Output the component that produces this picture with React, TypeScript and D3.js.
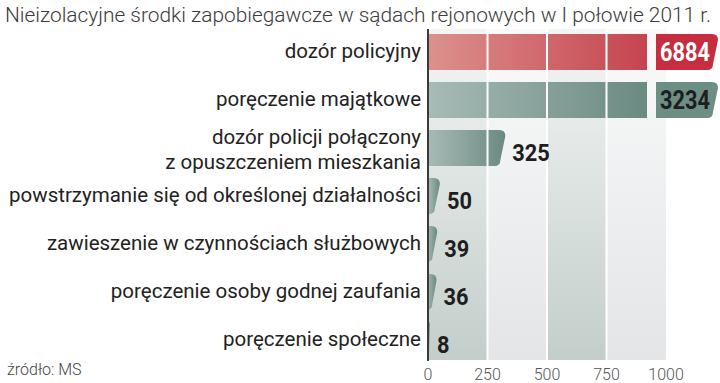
import React from "react";
import * as d3 from "d3";

const title = "Nieizolacyjne środki zapobiegawcze w sądach rejonowych w I połowie 2011 r.";
const categories = [
  ["dozór policyjny"],
  ["poręczenie majątkowe"],
  ["dozór policji połączony", "z opuszczeniem mieszkania"],
  ["powstrzymanie się od określonej działalności"],
  ["zawieszenie w czynnościach służbowych"],
  ["poręczenie osoby godnej zaufania"],
  ["poręczenie społeczne"],
];
const values = [6884, 3234, 325, 50, 39, 36, 8];
const tickValues = [0, 250, 500, 750, 1000];
const source = "źródło: MS";

const W = 720, H = 383;

export default function App() {
  const x = d3.scaleLinear().domain([0, 1000]).range([428, 666]);
  const keys = categories.map((_, i) => String(i));
  const y = d3.scaleBand<string>().domain(keys).range([28, 364]).paddingInner(0.25).paddingOuter(0.125);
  const bh = y.bandwidth();
  const panelTop = 29, panelBottom = 360;
  const overflowEnd = x(1000) - 19;
  const boxX0 = x(1000) - 10, boxX1 = 718;

  const shape = (x0: number, x1: number, y0: number, h: number) => {
    const w = x1 - x0;
    const r = Math.min(6, Math.max(w, 1));
    const s = Math.min(5, w * 0.5);
    return `M${x0},${y0} L${x1 - r},${y0} Q${x1},${y0} ${x1},${y0 + r} L${x1 - s},${y0 + h - r} Q${x1 - s},${y0 + h} ${x1 - s - r},${y0 + h} L${x0},${y0 + h} Z`;
  };

  const cols = d3.pairs(tickValues);

  return (
    <svg width={W} height={H} style={{ position: "absolute", left: 0, top: 0, background: "#fff" }}>
      <defs>
        <linearGradient id="colDark" x1="0" y1="0" x2="0" y2="1">
          <stop offset="0" stopColor="#f4f6f5" />
          <stop offset="1" stopColor="#c3cecb" />
        </linearGradient>
        <linearGradient id="colLight" x1="0" y1="0" x2="0" y2="1">
          <stop offset="0" stopColor="#fafafa" />
          <stop offset="1" stopColor="#e3e5e7" />
        </linearGradient>
        <linearGradient id="redBar" x1="0" y1="0" x2="1" y2="0">
          <stop offset="0" stopColor="#dc918d" />
          <stop offset="1" stopColor="#c5444f" />
        </linearGradient>
        <linearGradient id="greenBar" x1="0" y1="0" x2="1" y2="0">
          <stop offset="0" stopColor="#a8bbb6" />
          <stop offset="1" stopColor="#6a8a81" />
        </linearGradient>
      </defs>

      <text x={5} y={22} fontFamily="Roboto, sans-serif" fontSize={21} fontWeight={300}
        fill="#3a3a3a" textLength={706} lengthAdjust="spacingAndGlyphs">{title}</text>

      {cols.map(([a, b], i) => (
        <rect key={i} x={x(a)} y={panelTop} width={x(b) - x(a)} height={panelBottom - panelTop}
          fill={i % 2 === 0 ? "url(#colDark)" : "url(#colLight)"} />
      ))}

      {values.map((v, i) => {
        const y0 = y(String(i))!;
        const over = v > 1000;
        const isRed = i === 0;
        return (
          <g key={i}>
            {over ? (
              <rect x={x(0)} y={y0} width={overflowEnd - x(0)} height={bh} fill={isRed ? "url(#redBar)" : "url(#greenBar)"} />
            ) : (
              <path d={shape(x(0), x(v), y0, bh)} fill="url(#greenBar)" />
            )}
            {over && (
              <path d={shape(boxX0, boxX1, y0, bh)} fill={isRed ? "#c62e3f" : "#6d8e85"} />
            )}
          </g>
        );
      })}

      {tickValues.slice(1, -1).map((t) => (
        <line key={t} x1={x(t)} x2={x(t)} y1={panelTop} y2={panelBottom} stroke="#fff" strokeWidth={2} />
      ))}

      <line x1={x(0)} x2={x(0)} y1={panelTop} y2={panelBottom + 1} stroke="#3a3a3a" strokeWidth={2} />

      {values.map((v, i) => {
        const y0 = y(String(i))!;
        const c = y0 + bh / 2;
        const over = v > 1000;
        if (over) {
          return (
            <text key={i} x={(boxX0 + boxX1) / 2 - 2} y={c + 9} textAnchor="middle"
              fontFamily="Roboto, sans-serif" fontWeight={700} fontSize={25}
              fill={i === 0 ? "#ffffff" : "#1e1e1e"} textLength={50} lengthAdjust="spacingAndGlyphs">{v}</text>
          );
        }
        return (
          <text key={i} x={x(v) + 7} y={c + 13} fontFamily="Roboto, sans-serif" fontWeight={700}
            fontSize={24} fill="#1e1e1e" textLength={String(v).length * 12.5} lengthAdjust="spacingAndGlyphs">{v}</text>
        );
      })}

      {categories.map((lines, i) => {
        const c = y(String(i))! + bh / 2;
        const n = lines.length;
        return (
          <text key={i} textAnchor="end" fontFamily="Roboto, sans-serif" fontSize={20.5} fill="#222">
            {lines.map((l, j) => (
              <tspan key={j} x={421} y={c + 6 + (j - (n - 1) / 2) * 25 + (n > 1 ? 2 : 0)}>{l}</tspan>
            ))}
          </text>
        );
      })}

      {tickValues.map((t) => (
        <text key={t} x={x(t)} y={380} textAnchor="middle" fontFamily="Roboto, sans-serif" fontWeight={300}
          fontSize={16} fill="#555">{t}</text>
      ))}

      <text x={7} y={375} fontFamily="Roboto, sans-serif" fontWeight={300} fontSize={16} fill="#444">{source}</text>
    </svg>
  );
}
